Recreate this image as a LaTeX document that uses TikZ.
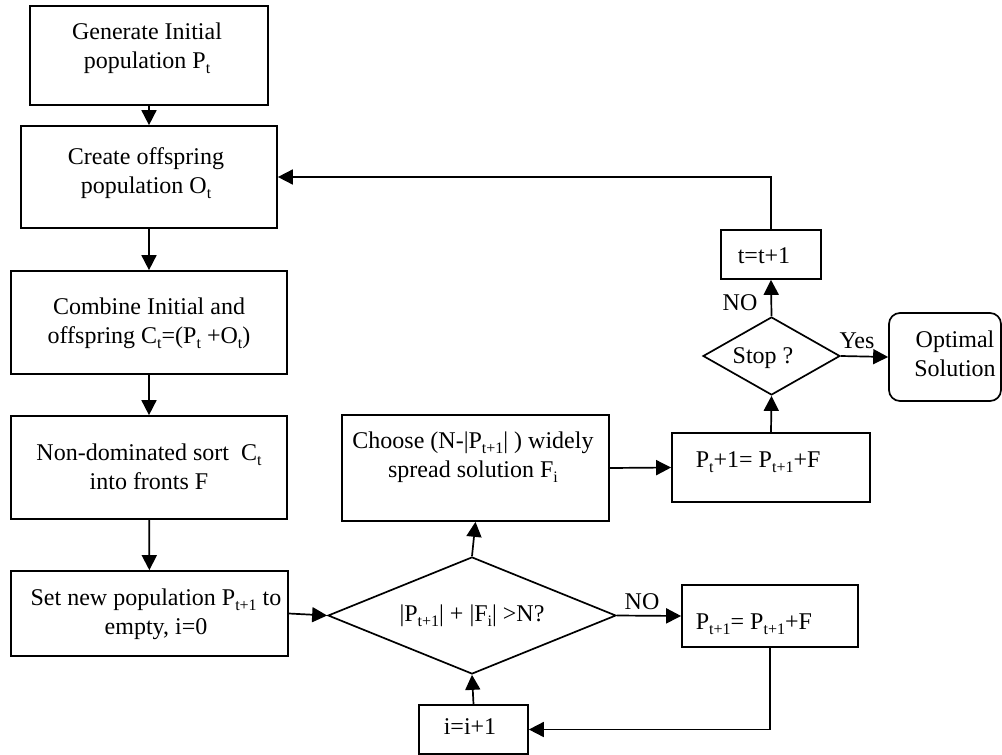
\documentclass[tikz,border=0pt]{standalone}
\usepackage{fontspec}
\setmainfont{Liberation Serif}
\usetikzlibrary{arrows.meta,shapes.geometric}
\newcommand\lsub[1]{\raisebox{-5pt}{\fontsize{16}{16}\selectfont #1}}
\begin{document}
\begin{tikzpicture}[x=1pt,y=-1pt,line width=1.7pt,
  box/.style={draw,rectangle,inner sep=0pt},
  rbox/.style={draw,rectangle,rounded corners=11pt,inner sep=0pt},
  txt/.style={inner sep=0pt,align=center,font=\fontsize{24}{29}\selectfont},
  dec/.style={draw,diamond,inner sep=0pt,align=center,font=\fontsize{24}{29}\selectfont},
  arr/.style={-{Triangle[length=15pt,width=15pt]}}]
\useasboundingbox (0,0) rectangle (1002,755);
% boxes
\node[box,minimum width=238pt,minimum height=99pt] (b1) at (149,55.5) {};
\node[box,minimum width=256pt,minimum height=102pt] (b2) at (149,177) {};
\node[box,minimum width=276pt,minimum height=103pt] (b3) at (149,322.5) {};
\node[box,minimum width=276pt,minimum height=103pt] (b4) at (149,467.5) {};
\node[box,minimum width=277pt,minimum height=85pt] (b5) at (149.5,613.5) {};
\node[box,minimum width=267pt,minimum height=106pt] (ch) at (475.5,468) {};
\node[box,minimum width=198pt,minimum height=69pt] (pu) at (771,467.5) {};
\node[box,minimum width=176pt,minimum height=62pt] (pl) at (770,616) {};
\node[box,minimum width=100pt,minimum height=49pt] (tt) at (771,254.5) {};
\node[box,minimum width=109pt,minimum height=49pt] (ii) at (473.5,729.5) {};
\node[rbox,minimum width=112pt,minimum height=88pt] (opt) at (945,357) {};
\node[dec,aspect=2.46,minimum width=288pt,minimum height=117pt] (d1) at (472,615.5) {|P\lsub{t+1}| + |F\lsub{i}| >N?};
\node[dec,aspect=1.76,minimum width=137pt,minimum height=78pt] (st) at (771.5,356) {};
% texts
\node[txt] (t1) at (147,48) {Generate Initial\\population P\lsub{t}};
\node[txt] (t2) at (146,173) {Create offspring\\population O\lsub{t}};
\node[txt] (t3) at (149,323) {Combine Initial and\\offspring C\lsub{t}=(P\lsub{t} +O\lsub{t})};
\node[txt] (t4) at (149,467) {Non-dominated sort\ \ C\lsub{t}\\into fronts F};
\node[txt] (t5) at (156,614) {Set new population P\lsub{t+1} to\\empty, i=0};
\node[txt] (t6) at (473,457) {Choose (N-|P\lsub{t+1}| ) widely\\spread solution F\lsub{i}};
\node[txt,anchor=west] (t7) at (695,462) {P\lsub{t}+1= P\lsub{t+1}+F};
\node[txt,anchor=west] (t8) at (695,624) {P\lsub{t+1}= P\lsub{t+1}+F};
\node[txt] (t9) at (764,256) {t=t+1};
\node[txt] (t10) at (470,727) {i=i+1};
\node[txt] (t11) at (763,358) {Stop ?};
\node[txt] (t12) at (955,354) {Optimal\\Solution};
\node[txt] (l1) at (740,303) {NO};
\node[txt] (l2) at (857,341) {Yes};
\node[txt] (l3) at (642,602) {NO};
% connectors
\draw[arr] (b1) -- (b2);
\draw[arr] (b2) -- (b3);
\draw[arr] (b3) -- (b4);
\draw[arr] (b4) -- (b5);
\draw[arr] (b5.east) -- (d1.west);
\draw[arr] (d1.north) -- (ch.south);
\draw[arr] (ch.east) -- (pu.west);
\draw[arr] (pu.north) -- (st.south);
\draw[arr] (st.north) -- (tt.south);
\draw[arr] (tt.north) |- (b2.east);
\draw[arr] (st.east) -- (opt.west);
\draw[arr] (d1.east) -- (pl.west);
\draw[arr] (pl.south) |- (ii.east);
\draw[arr] (ii.north) -- (d1.south);
\end{tikzpicture}
\end{document}
